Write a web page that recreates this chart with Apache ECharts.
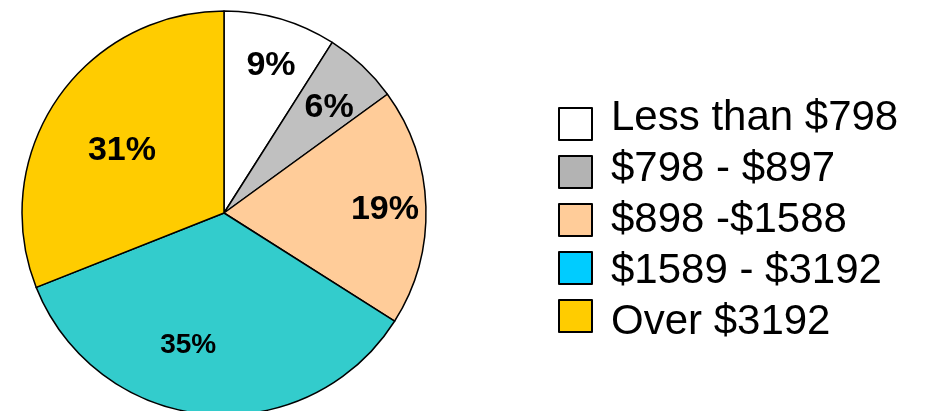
<!DOCTYPE html>
<html>
<head>
<meta charset="utf-8">
<script src="https://cdn.jsdelivr.net/npm/echarts@6/dist/echarts.min.js"></script>
<style>
  html, body { margin: 0; padding: 0; background: #fff; }
  #chart { width: 930px; height: 411px; }
</style>
</head>
<body>
<div id="chart"></div>
<script>
// share of each income band, percent
const categories = ['Less than $798', '$798 - $897', '$898 -$1588', '$1589 - $3192', 'Over $3192']
const shares = [9, 6, 19, 35, 31]

const sliceColors = ['#ffffff', '#c0c0c0', '#ffcc99', '#33cccc', '#ffcc00']
const legendColors = ['#ffffff', '#b3b3b3', '#ffcc99', '#00ccff', '#ffcc00']
// nudge labels away from the default mid-radius spot
const labelOffsets = [[18, -48], [34, -30], [57, 0], [-26, 29], [-16, -4]]
const labelSizes = [34, 34, 34, 28, 34]

const FONT = 'Arial, "Liberation Sans", sans-serif'

// legend text lines are spaced a bit wider than the swatches, so each row
// gets its own vertical shift (top + bottom padding stays 12)
const rich = {}
categories.forEach((_, i) => {
  const down = 3 * i
  rich['t' + i] = { fontFamily: FONT, fontSize: 42, color: '#000', lineHeight: 32, padding: [down, 0, 12 - down, 14] }
})

const chart = echarts.init(document.getElementById('chart'))

chart.setOption({
  animation: false,
  legend: {
    orient: 'vertical',
    left: 553,
    top: 92,
    icon: 'rect',
    itemWidth: 33,
    itemHeight: 32,
    itemGap: -6,
    selectedMode: false,
    formatter: name => '{t' + categories.indexOf(name) + '|' + name + '}',
    textStyle: { fontFamily: FONT, fontSize: 42, color: '#000', rich },
    data: categories.map((name, i) => ({
      name,
      itemStyle: { color: legendColors[i], borderColor: '#000', borderWidth: 2 }
    }))
  },
  series: [
    {
      type: 'pie',
      center: [224, 213],
      radius: 202,
      startAngle: 90,
      clockwise: true,
      silent: true,
      itemStyle: { borderColor: '#000', borderWidth: 1.5 },
      labelLine: { show: false },
      label: {
        show: true,
        position: 'inside',
        formatter: '{c}%',
        fontFamily: FONT,
        fontWeight: 'bold',
        color: '#000'
      },
      data: categories.map((name, i) => ({
        name,
        value: shares[i],
        itemStyle: { color: sliceColors[i] },
        label: { offset: labelOffsets[i], fontSize: labelSizes[i] }
      }))
    }
  ]
})
</script>
</body>
</html>
